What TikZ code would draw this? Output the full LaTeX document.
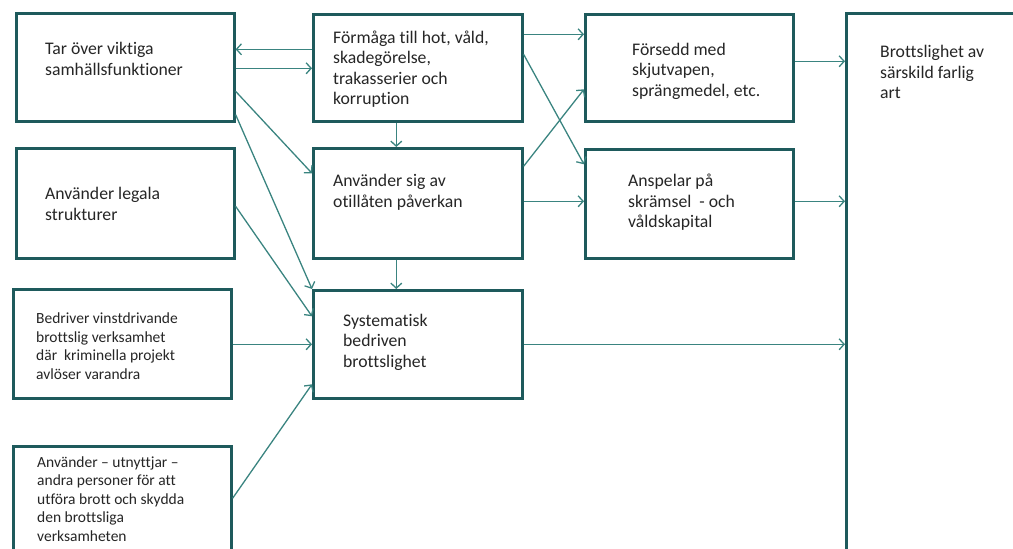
\documentclass[tikz,border=0pt]{standalone}
\usepackage{fontspec}
\setmainfont[Ligatures={TeX,NoCommon}]{Carlito}
\usepackage{xcolor}
\usepackage{tikz}
\usetikzlibrary{arrows.meta}
\definecolor{boxteal}{RGB}{30,90,92}
\definecolor{arrowteal}{RGB}{58,132,128}
\definecolor{textgray}{RGB}{38,38,38}

\begin{document}
\begin{tikzpicture}[x=1pt, y=-1pt,
		ruta/.style={draw=boxteal, line width=2.6pt, fill=white, anchor=north west, inner sep=0pt},
		txt/.style={anchor=west, align=left, inner sep=0pt, text=textgray, font=\fontsize{17.7}{20.5}\selectfont},
		smatxt/.style={txt, font=\fontsize{15.5}{18.5}\selectfont},
		pil/.style={draw=arrowteal, line width=1.3pt, -{Straight Barb[length=5pt,width=11pt]}}]
		\useasboundingbox (0,0) rectangle (1013,549);
		\clip (0,0) rectangle (1013,549);
		
		% rutor
		\node[ruta, minimum width=218pt, minimum height=108pt] (tar) at (15,12) {};
		\node[ruta, minimum width=218pt, minimum height=110pt] (legala) at (15,147) {};
		\node[ruta, minimum width=218pt, minimum height=109pt] (vinst) at (12,288) {};
		\node[ruta, minimum width=218pt, minimum height=140pt] (utnytt) at (12,445) {};
		\node[ruta, minimum width=209pt, minimum height=107pt] (formaga) at (312,13) {};
		\node[ruta, minimum width=209pt, minimum height=110pt] (otill) at (312,147) {};
		\node[ruta, minimum width=209pt, minimum height=108pt] (syst) at (312,289) {};
		\node[ruta, minimum width=208pt, minimum height=107pt] (forsedd) at (584,13) {};
		\node[ruta, minimum width=208pt, minimum height=109pt] (anspel) at (584,148) {};
		\node[ruta, minimum width=200pt, minimum height=570pt] (brott) at (845,12) {};
		
		% texter
		\node[txt] (tar-t) at (45,59) {Tar över viktiga\\samhällsfunktioner};
		\node[txt] (legala-t) at (45,204) {Använder legala\\strukturer};
		\node[smatxt] (vinst-t) at (36,346) {Bedriver vinstdrivande\\brottslig verksamhet\\där~ kriminella projekt\\avlöser varandra};
		\node[smatxt] (utnytt-t) at (37,499) {Använder – utnyttjar –\\andra personer för att\\utföra brott och skydda\\den brottsliga\\verksamheten};
		\node[txt] (formaga-t) at (333,69) {Förmåga till hot, våld,\\skadegörelse,\\trakasserier och\\korruption};
		\node[txt] (otill-t) at (333,192.5) {Använder sig av\\otillåten påverkan};
		\node[txt] (syst-t) at (343,342) {Systematisk\\bedriven\\brottslighet};
		\node[txt] (forsedd-t) at (632,71) {Försedd med\\skjutvapen,\\sprängmedel, etc.};
		\node[txt] (anspel-t) at (628,202.5) {Anspelar på\\skrämsel~ - och\\våldskapital};
		\node[txt] (brott-t) at (880,72) {Brottslighet av\\särskild farlig\\art};
		
		% pilar
		\draw[pil] ([yshift=18.5pt]formaga.west) -- ([yshift=18pt]tar.east);
		\draw[pil] ([yshift=-1pt]tar.east) -- ([yshift=-0.5pt]formaga.west);
		\draw[pil] ([yshift=-24pt]tar.east) -- ([yshift=30pt]otill.west);
		\draw[pil] ([yshift=8pt]tar.south east) -- (syst.north west);
		\draw[pil] ([yshift=-3pt]legala.east) -- ([yshift=28pt]syst.west);
		\draw[pil] ([yshift=-0.5pt]vinst.east) -- (syst.west);
		\draw[pil] ([yshift=18pt]utnytt.east) -- ([yshift=-40pt]syst.west);
		\draw[pil] ([xshift=-21.5pt]formaga.south) -- ([xshift=-21.5pt]otill.north);
		\draw[pil] ([xshift=-21.5pt]otill.south) -- ([xshift=-21.5pt]syst.north);
		\draw[pil] ([yshift=33.5pt]formaga.east) -- ([yshift=33.5pt]forsedd.west);
		\draw[pil] ([yshift=13.5pt]formaga.east) -- ([yshift=39.5pt]anspel.west);
		\draw[pil] ([yshift=37pt]otill.east) -- ([yshift=-21.5pt]forsedd.west);
		\draw[pil] ([yshift=2pt]otill.east) -- ([yshift=2.5pt]anspel.west);
		\draw[pil] ([yshift=6.5pt]forsedd.east) -- ([yshift=237pt]brott.west);
		\draw[pil] ([yshift=2.5pt]anspel.east) -- ([yshift=97pt]brott.west);
		\draw[pil] (syst.east) -- ([yshift=-46pt]brott.west);
	\end{tikzpicture}
\end{document}
